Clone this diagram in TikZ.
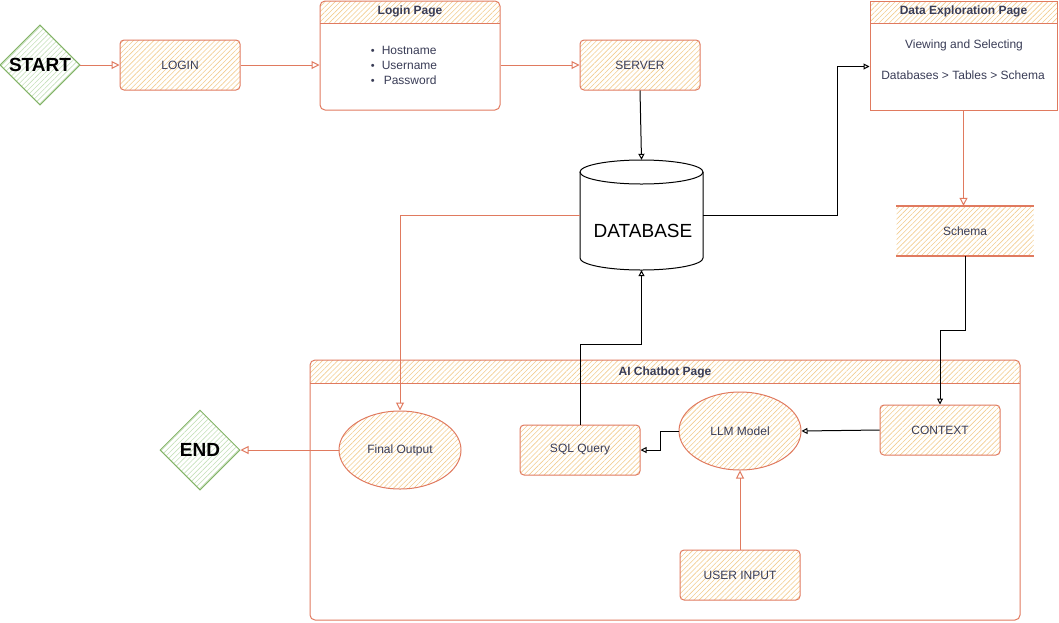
\documentclass[tikz,border=0pt]{standalone}
\usepackage{fontspec}
\setmainfont{Liberation Sans}
\usetikzlibrary{arrows.meta,patterns.meta,shapes.geometric,calc}
\definecolor{edge}{HTML}{E07A5F}
\definecolor{hatch}{HTML}{F2CC8F}
\definecolor{txt}{HTML}{393C56}
\definecolor{grn}{HTML}{82B366}
\definecolor{grnhatch}{HTML}{C5E0BA}
\begin{document}
\begin{tikzpicture}[x=1pt,y=-1pt,
  font=\fontsize{12}{14}\selectfont,
  hatchfill/.style={pattern={Lines[angle=45,distance=3.6pt,line width=0.6pt]}, pattern color=hatch},
  box/.style={draw=edge, line width=1pt, rounded corners=4pt, hatchfill, text=txt,
    minimum width=120pt, minimum height=50pt, inner sep=0pt},
  oval/.style={ellipse, draw=edge, line width=1pt, hatchfill, text=txt,
    minimum width=122pt, minimum height=78pt, inner sep=0pt},
  term/.style={diamond, draw=grn, line width=1pt, aspect=1,
    pattern={Lines[angle=45,distance=3.6pt,line width=0.6pt]}, pattern color=grnhatch,
    minimum width=80pt, minimum height=80pt, inner sep=0pt,
    font=\fontsize{19}{22}\selectfont\bfseries, text=black},
  lane/.style={draw=edge, line width=1pt, rounded corners=5pt, inner sep=0pt},
  headtxt/.style={font=\fontsize{12}{14}\selectfont\bfseries, text=txt, inner sep=0pt},
  body/.style={text=txt, inner sep=0pt},
  oarr/.style={draw=edge, line width=1pt, -{Triangle[open,length=8pt,width=8pt]}},
  barr/.style={draw=black, line width=1pt, -{Triangle[open,length=6pt,width=6pt]}},
]
\useasboundingbox (0,0) rectangle (1059,622);

% ---------- top row ----------
\node[term] (start) at (40,65) {START};
\node[box] (login) at (180,65) {LOGIN};

% Login Page swimlane
\path[hatchfill] [rounded corners=5pt] (320,23) -- (320,1) -- (500,1) [sharp corners] -- (500,23) -- cycle;
\node[lane, minimum width=180pt, minimum height=109pt] (lp) at (410,55.5) {};
\draw[edge, line width=1pt] (320,23) -- (500,23);
\node[headtxt] (lph) at (410,11.5) {Login Page};
\node[body, align=left] (lpbody) at (404,65)
  {{\fontsize{11}{15}\selectfont\textbullet}\hspace{7pt}Hostname\\[1pt]
   {\fontsize{11}{15}\selectfont\textbullet}\hspace{7pt}Username\\[1pt]
   {\fontsize{11}{15}\selectfont\textbullet}\hspace{7pt}\hspace{2pt}Password};

\node[box] (server) at (640,65) {SERVER};

% Data Exploration Page swimlane
\path[hatchfill] (870,23) -- (870,1) -- (1057,1) -- (1057,23) -- cycle;
\node[draw=edge, line width=1pt, minimum width=187pt, minimum height=109pt, inner sep=0pt] (de) at (963.5,55.5) {};
\draw[edge, line width=1pt] (870,23) -- (1057,23);
\node[headtxt] (deh) at (963.5,11.5) {Data Exploration Page};
\node[body] (de1) at (964,45) {Viewing and Selecting};
\node[body] (de2) at (963,75) {Databases > Tables > Schema};

% ---------- database ----------
\node[minimum width=123pt, minimum height=110pt, inner sep=0pt] (db) at (641.5,215) {};
\draw[line width=1pt, fill=white] (580,172) -- (580,258)
  .. controls (580,264.6) and (607.5,270) .. (641.5,270)
  .. controls (675.5,270) and (703,264.6) .. (703,258) -- (703,172);
\draw[line width=1pt] (641.5,172) ellipse [x radius=61.5, y radius=12];
\node[inner sep=0pt, font=\fontsize{19}{23}\selectfont, text=black] (dbl) at (643,231) {DATABASE};

% Schema
\node[hatchfill, minimum width=137pt, minimum height=50pt, inner sep=0pt, text=txt] (schema) at (965,231) {Schema};
\draw[edge, line width=1.6pt] (schema.north west) -- (schema.north east);
\draw[edge, line width=1.6pt] (schema.south west) -- (schema.south east);

% ---------- AI Chatbot Page ----------
\path[hatchfill] [rounded corners=5pt] (310,383) -- (310,360) -- (1020,360) [sharp corners] -- (1020,383) -- cycle;
\node[lane, minimum width=710pt, minimum height=260pt] (ai) at (665,490) {};
\draw[edge, line width=1pt] (310,383) -- (1020,383);
\node[headtxt] (aih) at (665,372) {AI Chatbot Page};

\node[box] (context) at (940,430) {CONTEXT};
\node[oval] (llm) at (740,431) {LLM Model};
\node[box] (sql) at (580,450) {SQL Query};
\node[oval] (final) at (400,450) {Final Output};
\node[box] (user) at (740,575) {USER INPUT};
\node[term] (end) at (200,450) {END};

% ---------- connectors ----------
\draw[oarr] (start.east) -- (login.west);
\draw[oarr] (login.east) -- (login.east -| lp.west);
\draw[oarr] (server.west -| lp.east) -- (server.west);
\draw[barr] (server.south) -- (db.north);
\draw[barr] (db.east) -- ++(134,0) |- ($(de.north west)+(0,66)$);
\draw[oarr] (de.south) -- (de.south |- schema.north);
\draw[barr] (schema.south) -- ++(0,74) -| (context.north);
\draw[barr] (context.west) -- (llm.east);
\draw[oarr] (user.north) -- (llm.south);
\draw[barr] (llm.west) -- ++(-18,0) |- (sql.east);
\draw[barr] (sql.north) -- ++(0,-80) -| (db.south);
\draw[oarr] (db.west) -| (final.north);
\draw[oarr] (final.west) -- (end.east);
\end{tikzpicture}
\end{document}
